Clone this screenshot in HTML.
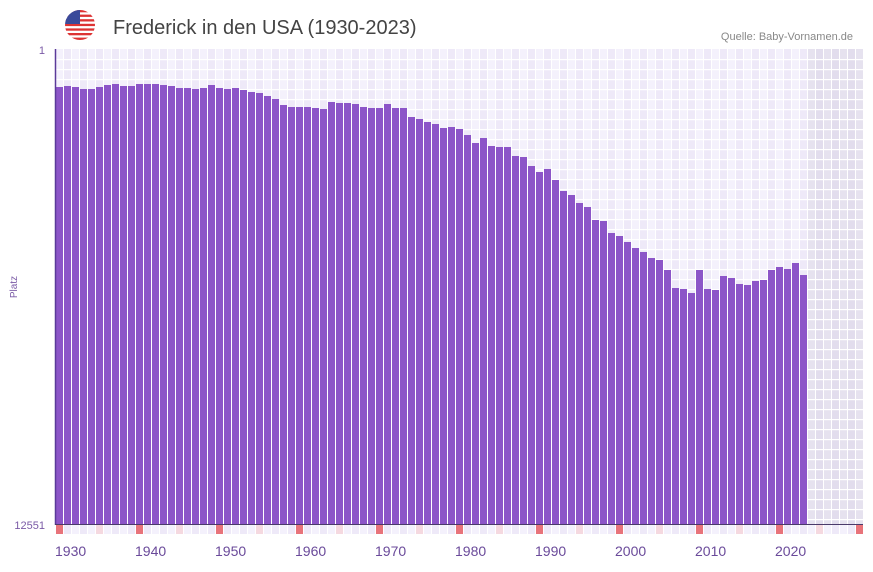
<!DOCTYPE html>
<html><head><meta charset="utf-8"><style>
body{margin:0;background:#fff;width:873px;height:567px;overflow:hidden;font-family:"Liberation Sans",sans-serif}
</style></head><body>
<svg id="s" width="873" height="567" xmlns="http://www.w3.org/2000/svg" font-family="Liberation Sans, sans-serif">
<defs><clipPath id="fc"><circle cx="80" cy="25" r="15"/></clipPath></defs>
<g id="grid"></g>
<g id="bars"></g>
<line x1="55.5" y1="49" x2="55.5" y2="525" stroke="#5b3a99" stroke-width="1.5"/>
<line x1="55" y1="524.5" x2="863" y2="524.5" stroke="#4a3a6a" stroke-width="1"/>
<g clip-path="url(#fc)">
<rect x="65" y="10" width="30" height="30" fill="#fff"/>
<g fill="#d33">
<rect x="65" y="10" width="30" height="2.3"/><rect x="65" y="14.6" width="30" height="2.3"/><rect x="65" y="19.2" width="30" height="2.3"/><rect x="65" y="23.8" width="30" height="2.3"/><rect x="65" y="28.4" width="30" height="2.3"/><rect x="65" y="33" width="30" height="2.3"/><rect x="65" y="37.6" width="30" height="2.4"/>
</g>
<rect x="65" y="10" width="15" height="14" fill="#3a4a9a"/>
</g>
<text x="113" y="34" font-size="20" fill="#444">Frederick in den USA (1930-2023)</text>
<text x="853" y="40" font-size="11" fill="#888" text-anchor="end">Quelle: Baby-Vornamen.de</text>
<text x="45" y="54" font-size="11" fill="#7a5aa6" text-anchor="end">1</text>
<text x="45" y="529" font-size="11" fill="#7a5aa6" text-anchor="end">12551</text>
<text transform="translate(17,287) rotate(-90)" font-size="10" fill="#7a5aa6" text-anchor="middle">Platz</text>
<g id="lab" font-size="14" fill="#6a4a9a"></g>
</svg>
<script>
var tops=[87,86,87,89,89,87,85,84,86,86,84,84,84,85,86,88,88,89,88,85,88,89,88,90,92,93,96,99,105,107,107,107,108,109,102,103,103,104,107,108,108,104,108,108,117,119,122,124,128,127,129,135,143,138,146,147,147,156,157,166,172,169,180,191,195,203,207,220,221,233,236,242,248,252,258,260,270,288,289,293,270,289,290,276,278,284,285,281,280,270,267,269,263,275];
var NS="http://www.w3.org/2000/svg";
function el(p,t,a){var e=document.createElementNS(NS,t);for(var k in a)e.setAttribute(k,a[k]);p.appendChild(e);return e;}
var g=document.getElementById('grid'),b=document.getElementById('bars'),l=document.getElementById('lab');
for(var i=0;i<101;i++){var x=56+i*8;var sh=i>=94;
 el(g,'rect',{x:x,y:49,width:7,height:475,fill:sh?(i%2?'#e2dded':'#e6e2ef'):(i%2?'#eee9f8':'#f4f1fc')});
 var yr=(1930+i)%10;var c=yr==0?'#e8737a':(yr==5?'#f5d9e0':(i%2?'#eee9f8':'#f4f1fc'));
 el(g,'rect',{x:x,y:525,width:7,height:9,fill:c});
 if(yr==0&&i<100){var t=el(l,'text',{x:x-1,y:556});t.textContent=1930+i;}
}
for(var y=59;y<524;y+=10){el(g,'rect',{x:55,y:y,width:808,height:1.2,fill:'#fff'});}
for(var i=0;i<tops.length;i++){el(b,'rect',{x:56+i*8,y:tops[i],width:7,height:524-tops[i],fill:'#8c55c8'});}
</script>
</body></html>
